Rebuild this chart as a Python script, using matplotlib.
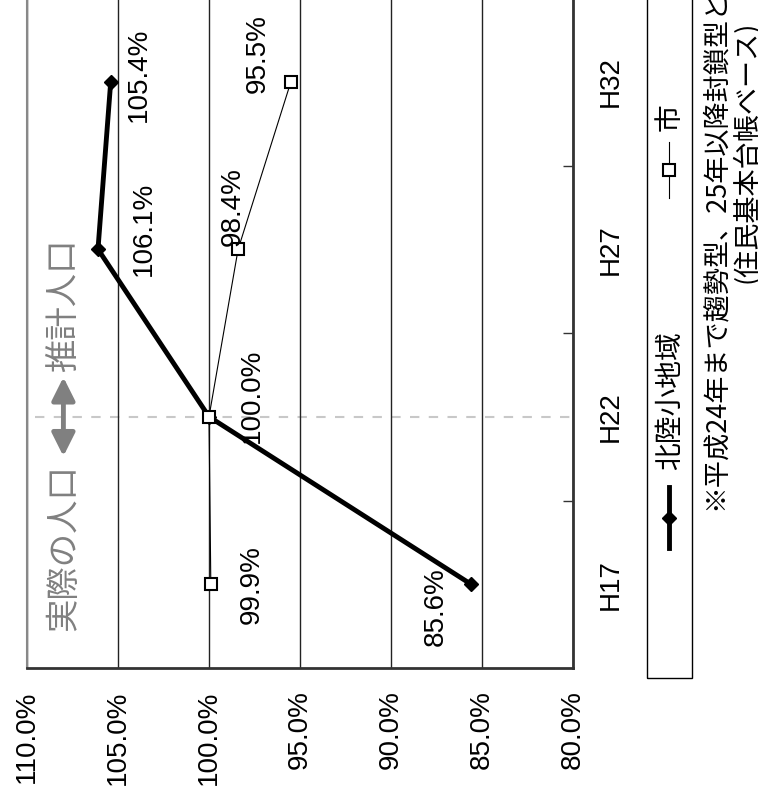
import numpy as np
import matplotlib.pyplot as plt
from matplotlib.lines import Line2D
from matplotlib.patches import Rectangle, FancyArrowPatch

# データ
categories = ["H17", "H22", "H27", "H32"]
hokuryo = [85.6, 100.0, 106.1, 105.4]
shi = [99.9, 100.0, 98.4, 95.5]
hokuryo_labels = ["85.6%", "100.0%", "106.1%", "105.4%"]
shi_labels = ["99.9%", "", "98.4%", "95.5%"]
value_ticks = [110, 105, 100, 95, 90, 85, 80]
series_names = ["北陸小地域", "市"]
note1 = "※平成24年まで趨勢型、25年以降封鎖型として推計"
note2 = "(住民基本台帳ベース)"

# ラベル位置 (ピクセル)
hokuryo_off = [(-35, -22), (43, 21), (46, 20), (28, 7)]
shi_off = [(41, 0), (0, 0), (-5, 43), (-33, 28)]

W, H = 758, 795
fig = plt.figure(figsize=(W / 100, H / 100), dpi=100)

def fx(x):
    return x / W

def fy(y):
    return 1 - y / H

num_font = ['Liberation Sans', 'DejaVu Sans']
jp_font = ['Noto Sans CJK JP', 'DejaVu Sans']
gray = '#808080'

ax = fig.add_axes([fx(27), fy(668), (573 - 27) / W, (668 + 2) / H])
y = np.arange(len(categories))
ax.plot(hokuryo, y, color='black', lw=3.5, marker='D', ms=7, zorder=4)
ax.plot(shi, y, color='black', lw=0.8, marker='s', ms=9, mfc='white',
        mec='black', mew=1.5, zorder=5)

ax.set_xlim(110, 80)
ax.set_ylim(-0.5, 3.5)
ax.set_xticks(value_ticks)
ax.set_xticklabels(["%.1f%%" % v for v in value_ticks], rotation=90,
                   va='top', family=num_font, fontsize=20)
ax.tick_params(axis='x', length=0, pad=16)
ax.grid(axis='x', color='#222222', lw=1)

ax.yaxis.tick_right()
ax.set_yticks(y)
ax.set_yticklabels(categories, rotation=90, va='center', family=num_font, fontsize=20)
ax.tick_params(axis='y', which='major', length=0, pad=18)
ax.set_yticks([0.5, 1.5, 2.5], minor=True)
ax.tick_params(axis='y', which='minor', direction='in', length=7, width=1,
               right=True, left=False, color='#333333')

ax.spines['left'].set_color('#888888')
ax.spines['left'].set_linewidth(1.5)
for s in ['right', 'bottom']:
    ax.spines[s].set_color('#333333')
    ax.spines[s].set_linewidth(2)
ax.spines['top'].set_visible(False)

# 実際と推計の境目
ax.axhline(1, xmin=0.015, color='#c8c8c8', lw=1.5, ls=(0, (4.5, 4.5)), zorder=1)

# データラベル
for i in range(len(categories)):
    ax.annotate(hokuryo_labels[i], (hokuryo[i], y[i]), xytext=hokuryo_off[i],
                textcoords='offset pixels', rotation=90, ha='center', va='center',
                family=num_font, fontsize=20, zorder=6)
    if shi_labels[i]:
        ax.annotate(shi_labels[i], (shi[i], y[i]), xytext=shi_off[i],
                    textcoords='offset pixels', rotation=90, ha='center', va='center',
                    family=num_font, fontsize=20, zorder=6)

# 矢印と注記
arr = FancyArrowPatch((108, 0.764), (108, 1.236), arrowstyle='<|-|>,head_length=0.7,head_width=0.35',
                      mutation_scale=20, color=gray, lw=3.5, shrinkA=0, shrinkB=0, zorder=3)
ax.add_patch(arr)
ax.text(108, 0.72, "実際の人口", rotation=90, ha='center', va='top', color=gray,
        fontsize=24, family=jp_font)
ax.text(108, 1.27, "推計人口", rotation=90, ha='center', va='bottom', color=gray,
        fontsize=24, family=jp_font)

# 凡例
fig.patches.append(Rectangle((fx(647), fy(678)), (692 - 647) / W, (678 + 5) / H,
                             transform=fig.transFigure, fill=False, ec='black', lw=1))
fig.add_artist(Line2D([fx(669)] * 3, [fy(548), fy(518), fy(487)], transform=fig.transFigure,
                      color='black', lw=3.5, marker='D', ms=7, markevery=[1]))
fig.add_artist(Line2D([fx(669)] * 3, [fy(198), fy(170), fy(142)], transform=fig.transFigure,
                      color='black', lw=0.8, marker='s', ms=9, mfc='white', mec='black',
                      mew=1.5, markevery=[1]))
fig.text(fx(670), fy(470), series_names[0], rotation=90, ha='center', va='bottom',
         fontsize=20, family=jp_font)
fig.text(fx(670), fy(131), series_names[1], rotation=90, ha='center', va='bottom',
         fontsize=20, family=jp_font)

# 脚注
fig.text(fx(715), fy(510), note1, rotation=90, ha='center', va='bottom',
         fontsize=19.5, family=jp_font)
fig.text(fx(746), fy(283), note2, rotation=90, ha='center', va='bottom',
         fontsize=19.5, family=jp_font)

fig.savefig('out.png', dpi=100)
